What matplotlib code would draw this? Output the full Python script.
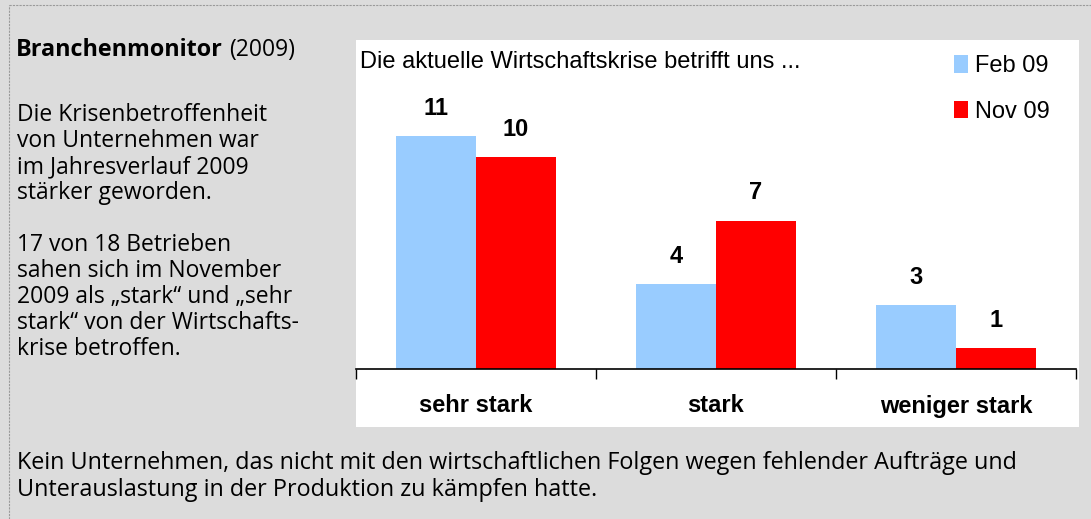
import numpy as np
import matplotlib.pyplot as plt
from matplotlib.patches import Rectangle
from matplotlib.lines import Line2D

categories = ["sehr stark", "stark", "weniger stark"]
feb09 = [11, 4, 3]
nov09 = [10, 7, 1]
series_names = ["Feb 09", "Nov 09"]

W, H = 1091, 519
fig = plt.figure(figsize=(W / 100, H / 100), dpi=100)
fig.patch.set_facecolor("#dcdcdc")

def px(x, y):
    return x / W, 1 - y / H

# dashed frame (top + left)
fig.add_artist(Line2D([9 / W, 1], [1 - 5 / H, 1 - 5 / H], color="#9a9a9a",
                      lw=0.8, ls=(0, (2, 1)), transform=fig.transFigure))
fig.add_artist(Line2D([9 / W, 9 / W], [0, 1 - 5 / H], color="#9a9a9a",
                      lw=0.8, ls=(0, (2, 1)), transform=fig.transFigure))

# white chart panel
fig.add_artist(Rectangle(px(356, 427), (1079 - 356) / W, (427 - 40) / H,
                         facecolor="white", edgecolor="none",
                         transform=fig.transFigure, zorder=0))

side = "Open Sans"
fs = 16.5
fig.text(*px(16, 50), "Branchenmonitor", fontsize=16.8, family=side,
         fontweight="bold", va="center")
fig.text(*px(229, 50), "(2009)", fontsize=fs, family=side, va="center")
left_lines = ["Die Krisenbetroffenheit", "von Unternehmen war",
              "im Jahresverlauf 2009", "stärker geworden.", "",
              "17 von 18 Betrieben", "sahen sich im November",
              "2009 als „stark“ und „sehr", "stark“ von der Wirtschafts-",
              "krise betroffen."]
for i, s in enumerate(left_lines):
    fig.text(*px(17, 115 + 26 * i), s, fontsize=fs, family=side, va="center")

fig.text(*px(17, 463), "Kein Unternehmen, das nicht mit den wirtschaftlichen Folgen "
         "wegen fehlender Aufträge und", fontsize=16.8, family=side, va="center")
fig.text(*px(17, 490), "Unterauslastung in der Produktion zu kämpfen hatte.",
         fontsize=16.8, family=side, va="center")

# bar chart
ax = fig.add_axes([356 / W, 150 / H, 720 / W, 327 / H])
ax.patch.set_alpha(0)
x = np.arange(len(categories))
bw = 1 / 3
b1 = ax.bar(x - bw / 2, feb09, bw, color="#99ccff", label=series_names[0])
b2 = ax.bar(x + bw / 2, nov09, bw, color="#ff0000", label=series_names[1])
for bars in (b1, b2):
    for r in bars:
        ax.annotate(str(int(r.get_height())), (r.get_x() + r.get_width() / 2, r.get_height()),
                    xytext=(0, 20), textcoords="offset points", ha="center",
                    va="center", fontsize=17, fontweight="bold", family="Liberation Sans")

ax.set_xlim(-0.5, 2.5)
ax.set_ylim(0, 327 / 21.2)
ax.set_yticks([])
for sp in ["top", "right", "left"]:
    ax.spines[sp].set_visible(False)
ax.spines["bottom"].set_linewidth(1.2)
ax.set_xticks([-0.5, 0.5, 1.5, 2.5])
ax.set_xticklabels([])
ax.tick_params(axis="x", length=7, width=1, direction="out")
for i, c in enumerate(categories):
    ax.text(i, -37 / 21.2, c, ha="center", va="center", fontsize=17,
            fontweight="bold", family="Liberation Sans")

ax.text(4 / 240 - 0.5, 15.42 - 20 / 21.2, "Die aktuelle Wirtschaftskrise betrifft uns ...",
        fontsize=17, family="Liberation Sans", va="center")

leg = ax.legend(loc="upper right", bbox_to_anchor=(1071 / W, 1 - 34 / H),
                bbox_transform=fig.transFigure, frameon=False,
                prop={"family": "Liberation Sans", "size": 17},
                handlelength=0.6, handleheight=0.75, handletextpad=0.3,
                labelspacing=1.0)

fig.savefig("out.png", dpi=100, facecolor=fig.get_facecolor())
